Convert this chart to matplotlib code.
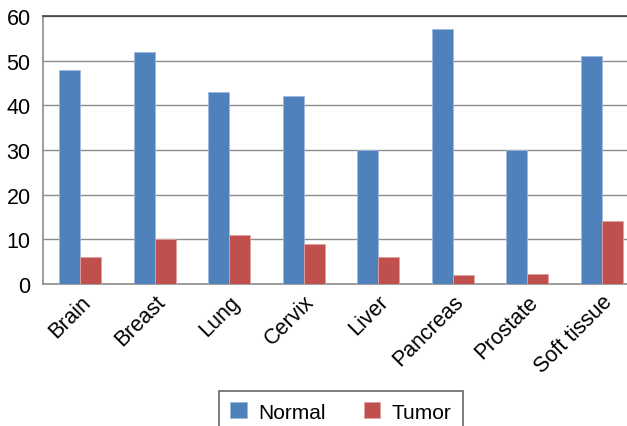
import matplotlib
matplotlib.use("Agg")
import matplotlib.pyplot as plt
import numpy as np

categories = ["Brain", "Breast", "Lung", "Cervix", "Liver", "Pancreas", "Prostate", "Soft tissue"]
normal = [48, 52, 43, 42, 30, 57, 30, 51]
tumor = [6, 10, 11, 9, 6, 2, 2.3, 14]
yticks = [0, 10, 20, 30, 40, 50, 60]

plt.rcParams['font.family'] = ['Liberation Sans', 'DejaVu Sans']

W, H = 627, 427
fig = plt.figure(figsize=(W/100, H/100), dpi=100)
left, right, top, bottom = 43, 639, 17, 285
ax = fig.add_axes([left/W, 1-bottom/H, (right-left)/W, (bottom-top)/H])

x = np.arange(len(categories))
bw = 0.285
blue = "#4F81BD"
red = "#C0504D"
ax.bar(x - bw/2, normal, bw, color=blue, edgecolor="#9DB8DC", linewidth=0.6, label="Normal", zorder=3)
ax.bar(x + bw/2, tumor, bw, color=red, edgecolor="#E0A09E", linewidth=0.6, label="Tumor", zorder=3)

ax.set_xlim(-0.5, len(categories) - 0.5)
ax.set_ylim(0, 60)
ax.set_yticks(yticks)
ax.set_yticklabels([str(v) for v in yticks], fontsize=15.5)
ax.yaxis.grid(True, color="#8C8C8C", linewidth=1.0, zorder=0)
ax.set_axisbelow(True)
ax.tick_params(axis='y', length=0, pad=9)
ax.tick_params(axis='x', length=0, pad=5)
ax.set_xticks(x)
ax.set_xticklabels(categories, fontsize=15.5, rotation=45, ha='right', rotation_mode='anchor')

for s in ['left', 'bottom']:
    ax.spines[s].set_color("#8C8C8C")
    ax.spines[s].set_linewidth(1.2)
ax.spines['top'].set_color("#404040")
ax.spines['top'].set_linewidth(1.2)
ax.spines['right'].set_visible(False)

leg = fig.legend(loc='upper left', bbox_to_anchor=(219/W, 1-392/H), ncol=2, fontsize=15,
                 frameon=True, fancybox=False, edgecolor="#404040",
                 handlelength=0.8, handleheight=0.8, handletextpad=0.55,
                 columnspacing=1.8, borderpad=0.55, borderaxespad=0)
leg.get_frame().set_linewidth(1.2)

fig.savefig("out.png", dpi=100)
